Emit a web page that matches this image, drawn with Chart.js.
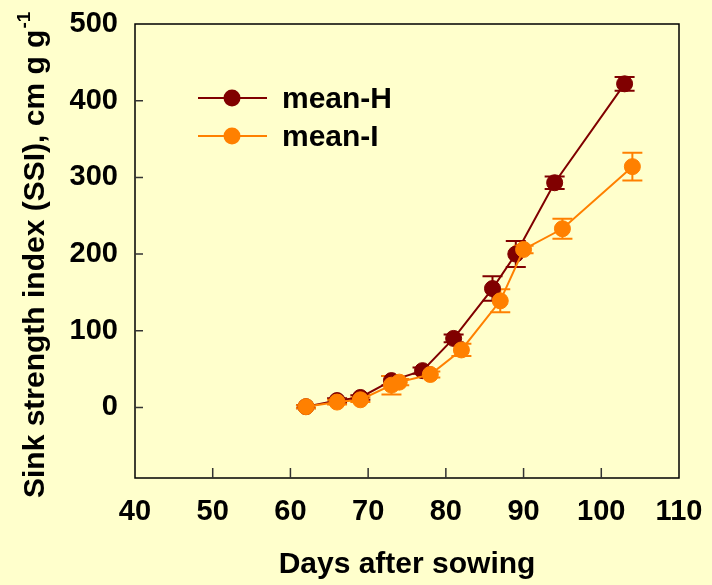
<!DOCTYPE html>
<html>
<head>
<meta charset="utf-8">
<script src="https://cdn.jsdelivr.net/npm/chart.js@4/dist/chart.umd.min.js"></script>
<style>
  body { margin: 0; background: #FFFFCC; }
  #wrap { width: 712px; height: 585px; }
</style>
</head>
<body>
<div id="wrap"><canvas id="ssi" width="712" height="585"></canvas></div>
<script>
// days after sowing, mean SSI and error (+/-) for each treatment
var hDays = [62, 66, 69, 73, 77, 81, 86, 89, 94, 103];
var hMean = [1, 9, 13, 35, 48, 90, 155, 200, 293, 422];
var hErr  = [2, 3, 3, 6, 4, 5, 16, 17, 8, 9];

var iDays = [62, 66, 69, 73, 74, 78, 82, 87, 90, 95, 104];
var iMean = [1, 7, 10, 29, 33, 43, 75, 139, 206, 233, 314];
var iErr  = [2, 3, 3, 12, 4, 4, 8, 15, 5, 13, 18];

var xTicks = [40, 50, 60, 70, 80, 90, 100, 110];
var yTicks = [0, 100, 200, 300, 400, 500];

var darkRed = '#800000';
var orange = '#FF8000';
var family = '"Liberation Sans", Arial, sans-serif';
var font = 'bold 30px ' + family;

function toPoints(xs, ys) {
  var pts = [];
  for (var i = 0; i < xs.length; i++) {
    pts.push({ x: xs[i], y: ys[i] });
  }
  return pts;
}

var errs = [iErr, hErr];

var framePlugin = {
  id: 'frame',
  beforeDraw: function(chart) {
    var ctx = chart.ctx;
    ctx.save();
    ctx.fillStyle = '#FFFFCC';
    ctx.fillRect(0, 0, chart.width, chart.height);
    ctx.restore();
  },
  beforeDatasetsDraw: function(chart) {
    var ctx = chart.ctx;
    var a = chart.chartArea;
    var xs = chart.scales.x;
    var ys = chart.scales.y;
    ctx.save();
    ctx.strokeStyle = '#000';
    ctx.lineWidth = 1.5;
    ctx.strokeRect(a.left, a.top, a.right - a.left, a.bottom - a.top);
    ctx.strokeStyle = '#333';
    ctx.beginPath();
    for (var i = 1; i < xTicks.length - 1; i++) {
      var px = xs.getPixelForValue(xTicks[i]);
      ctx.moveTo(px, a.bottom);
      ctx.lineTo(px, a.bottom - 10);
    }
    for (var j = 0; j < yTicks.length - 1; j++) {
      var py = ys.getPixelForValue(yTicks[j]);
      ctx.moveTo(a.left, py);
      ctx.lineTo(a.left + 8, py);
    }
    ctx.stroke();

    // error bars, under the markers
    var order = [1, 0];
    for (var k = 0; k < order.length; k++) {
      var d = order[k];
      var ds = chart.data.datasets[d];
      ctx.strokeStyle = ds.borderColor;
      ctx.lineWidth = 2;
      ctx.beginPath();
      for (var n = 0; n < ds.data.length; n++) {
        var p = ds.data[n];
        var e = errs[d][n];
        var cx = xs.getPixelForValue(p.x);
        var top = ys.getPixelForValue(p.y + e);
        var bot = ys.getPixelForValue(p.y - e);
        ctx.moveTo(cx, top);
        ctx.lineTo(cx, bot);
        ctx.moveTo(cx - 10, top);
        ctx.lineTo(cx + 10, top);
        ctx.moveTo(cx - 10, bot);
        ctx.lineTo(cx + 10, bot);
      }
      ctx.stroke();
    }
    ctx.restore();
  },
  afterDraw: function(chart) {
    var ctx = chart.ctx;
    ctx.save();

    // legend
    var rows = [
      { label: 'mean-H', color: darkRed, y: 98 },
      { label: 'mean-I', color: orange, y: 136 }
    ];
    for (var i = 0; i < rows.length; i++) {
      var r = rows[i];
      ctx.strokeStyle = r.color;
      ctx.lineWidth = 2;
      ctx.beginPath();
      ctx.moveTo(198, r.y);
      ctx.lineTo(267, r.y);
      ctx.stroke();
      ctx.fillStyle = r.color;
      ctx.beginPath();
      ctx.arc(232, r.y, 8.5, 0, Math.PI * 2);
      ctx.fill();
      ctx.fillStyle = '#000';
      ctx.font = font;
      ctx.textAlign = 'left';
      ctx.textBaseline = 'middle';
      ctx.fillText(r.label, 282, r.y + 2);
    }

    // y axis title with superscript
    ctx.translate(44, 498);
    ctx.rotate(-Math.PI / 2);
    ctx.fillStyle = '#000';
    ctx.font = font;
    ctx.textAlign = 'left';
    ctx.textBaseline = 'alphabetic';
    var main = 'Sink strength index (SSI), cm g g';
    ctx.fillText(main, 0, 0);
    var w = ctx.measureText(main).width;
    ctx.font = 'bold 19px ' + family;
    ctx.fillText('-1', w + 1, -14);
    ctx.restore();
  }
};

var chart = new Chart(document.getElementById('ssi').getContext('2d'), {
  type: 'scatter',
  data: {
    datasets: [{
      label: 'mean-I',
      data: toPoints(iDays, iMean),
      showLine: true,
      borderColor: orange,
      backgroundColor: orange,
      borderWidth: 2,
      pointRadius: 8,
      pointBorderWidth: 1,
      order: 0
    }, {
      label: 'mean-H',
      data: toPoints(hDays, hMean),
      showLine: true,
      borderColor: darkRed,
      backgroundColor: darkRed,
      borderWidth: 2,
      pointRadius: 8,
      pointBorderWidth: 1,
      order: 1
    }]
  },
  options: {
    responsive: false,
    animation: false,
    layout: { padding: { top: 24, right: 33, left: 0, bottom: 0 } },
    plugins: {
      legend: { display: false },
      tooltip: { enabled: false }
    },
    scales: {
      x: {
        type: 'linear',
        min: 40,
        max: 110,
        afterBuildTicks: function(scale) {
          scale.ticks = xTicks.map(function(v) { return { value: v }; });
        },
        afterFit: function(scale) {
          scale.height = 107;
          scale.paddingLeft = 0;
          scale.paddingRight = 0;
        },
        grid: { display: false, drawTicks: false },
        border: { display: false },
        ticks: {
          padding: 17,
          color: '#000',
          maxRotation: 0,
          font: { family: family, size: 29, weight: 'bold' }
        },
        title: {
          display: true,
          text: 'Days after sowing',
          color: '#000',
          padding: { top: 0, bottom: 2 },
          font: { family: family, size: 30, weight: 'bold' }
        }
      },
      y: {
        type: 'linear',
        min: -92,
        max: 500,
        afterBuildTicks: function(scale) {
          scale.ticks = yTicks.map(function(v) { return { value: v }; });
        },
        afterFit: function(scale) {
          scale.width = 135;
          scale.paddingTop = 0;
          scale.paddingBottom = 0;
        },
        grid: { display: false, drawTicks: false },
        border: { display: false },
        ticks: {
          padding: 17,
          color: '#000',
          font: { family: family, size: 29, weight: 'bold' }
        }
      }
    }
  },
  plugins: [framePlugin]
});
</script>
</body>
</html>
